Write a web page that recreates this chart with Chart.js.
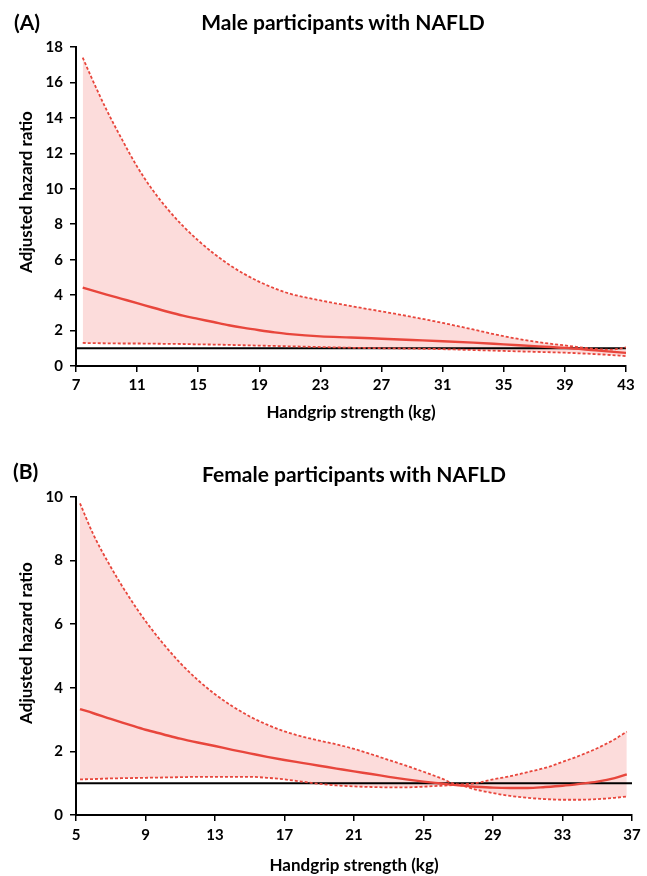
<!DOCTYPE html>
<html>
<head>
<meta charset="utf-8">
<script src="https://cdn.jsdelivr.net/npm/chart.js@4.4.1/dist/chart.umd.min.js"></script>
<style>
body{margin:0;background:#fff;width:647px;height:876px;position:relative;overflow:hidden;font-family:Lato, sans-serif;}
.box{position:absolute;left:0;width:647px;}
.lbl{position:absolute;font-weight:bold;color:#000;white-space:nowrap;line-height:1;z-index:2;}
.mid{transform:translateX(-50%);}
.ytitle{font-size:17px;transform:translate(-50%,-50%) rotate(-90deg);}
</style>
</head>
<body>
<div class="lbl" style="left:14px;top:11px;font-size:21px">(A)</div>
<div class="lbl mid" style="left:343px;top:11px;font-size:21px">Male participants with NAFLD</div>
<div class="lbl ytitle" style="left:25px;top:192px">Adjusted hazard ratio</div>
<div class="box" style="top:0;height:430px"><canvas id="chartA"></canvas></div>

<div class="lbl" style="left:13px;top:460px;font-size:21px">(B)</div>
<div class="lbl mid" style="left:354px;top:463px;font-size:21px">Female participants with NAFLD</div>
<div class="lbl ytitle" style="left:25px;top:643px">Adjusted hazard ratio</div>
<div class="box" style="top:440px;height:436px"><canvas id="chartB"></canvas></div>

<script>
/*************************
DATA
*************************/

//(A) male participants
const gripA = [7.44, 8, 9, 10, 11, 12, 13, 14, 15, 16, 17, 18, 19, 20, 21, 23, 25, 27, 29, 31, 33, 35, 37, 39, 41, 42, 43];
const upperA = [17.4, 16.3, 14.45, 12.8, 11.25, 9.95, 8.85, 7.9, 7.08, 6.36, 5.73, 5.2, 4.75, 4.38, 4.08, 3.7, 3.38, 3.08, 2.77, 2.43, 2.06, 1.68, 1.38, 1.16, 0.96, 0.92, 1.05];
const hrA = [4.42, 4.28, 4.03, 3.79, 3.55, 3.3, 3.06, 2.84, 2.66, 2.48, 2.3, 2.15, 2.02, 1.9, 1.8, 1.67, 1.61, 1.54, 1.47, 1.4, 1.32, 1.22, 1.12, 1.02, 0.88, 0.81, 0.74];
const lowerA = [1.3, 1.29, 1.28, 1.27, 1.27, 1.26, 1.25, 1.24, 1.22, 1.21, 1.19, 1.17, 1.15, 1.13, 1.11, 1.07, 1.03, 1.0, 0.98, 0.95, 0.9, 0.85, 0.8, 0.75, 0.67, 0.62, 0.56];
const xTicksA = [7, 11, 15, 19, 23, 27, 31, 35, 39, 43];
const yTicksA = [0, 2, 4, 6, 8, 10, 12, 14, 16, 18];

//(B) female participants
const gripB = [5.23, 6, 7, 8, 9, 10, 11, 12, 13, 14, 15, 16, 17, 18, 19, 20, 21, 22, 23, 24, 25, 26, 27, 28, 29, 30, 31, 32, 33, 34, 35, 36, 36.7];
const upperB = [9.8, 8.82, 7.8, 6.9, 6.1, 5.4, 4.78, 4.25, 3.8, 3.42, 3.1, 2.84, 2.63, 2.47, 2.34, 2.22, 2.08, 1.91, 1.73, 1.55, 1.36, 1.16, 0.96, 1.0, 1.12, 1.22, 1.35, 1.48, 1.67, 1.87, 2.1, 2.38, 2.62];
const hrB = [3.33, 3.2, 3.02, 2.85, 2.68, 2.54, 2.4, 2.28, 2.17, 2.05, 1.94, 1.83, 1.73, 1.64, 1.55, 1.46, 1.37, 1.29, 1.2, 1.12, 1.05, 0.99, 0.93, 0.89, 0.86, 0.85, 0.85, 0.88, 0.92, 0.98, 1.05, 1.16, 1.28];
const lowerB = [1.12, 1.13, 1.15, 1.16, 1.17, 1.18, 1.19, 1.2, 1.2, 1.2, 1.2, 1.17, 1.12, 1.05, 0.98, 0.93, 0.9, 0.88, 0.87, 0.87, 0.89, 0.92, 0.94, 0.8, 0.69, 0.6, 0.54, 0.5, 0.48, 0.48, 0.5, 0.54, 0.58];
const xTicksB = [5, 9, 13, 17, 21, 25, 29, 33, 37];
const yTicksB = [0, 2, 4, 6, 8, 10];

const refHR = 1;//reference hazard ratio line

//colors and fonts
const redColor = '#e8463c';
const bandColor = '#fcdcdb';
const tickFont = {family: 'Lato', size: 15, weight: 'bold'};
const titleFont = {family: 'Lato', size: 17, weight: 'bold'};

/*************************
GENERAL FUNCTIONS
*************************/

function Points(xs, ys){
	return xs.map((x, i) => ({x: x, y: ys[i]}));
}

//draws one hazard ratio curve with its confidence band
function CreateCurve(canvas, s){
	const lineOpts = {pointRadius: 0, tension: 0.4, cubicInterpolationMode: 'monotone'};
	return new Chart(canvas, {
		type: 'line',
		data: {
			datasets: [
				Object.assign({data: Points(s.x, s.upper), borderColor: redColor, borderWidth: 1.8, borderDash: [3, 2], fill: '+1', backgroundColor: bandColor}, lineOpts),
				Object.assign({data: Points(s.x, s.lower), borderColor: redColor, borderWidth: 1.8, borderDash: [3, 2], fill: false}, lineOpts),
				Object.assign({data: Points(s.x, s.hr), borderColor: redColor, borderWidth: 2.4, fill: false}, lineOpts),
				{data: [{x: s.xTicks[0], y: refHR}, {x: s.xTicks[s.xTicks.length - 1], y: refHR}], borderColor: '#000', borderWidth: 2, pointRadius: 0, fill: false},
			],
		},
		options: {
			responsive: true,
			maintainAspectRatio: false,
			animation: false,
			layout: {padding: s.padding},
			plugins: {
				legend: {display: false},
				tooltip: {enabled: false},
				filler: {drawTime: 'beforeDatasetsDraw'},
			},
			scales: {
				x: {
					type: 'linear',
					min: s.xTicks[0],
					max: s.xTicks[s.xTicks.length - 1],
					afterBuildTicks: scale => { scale.ticks = s.xTicks.map(v => ({value: v})); },
					afterFit: scale => { scale.height = s.xHeight; },
					ticks: {font: tickFont, color: '#000', padding: s.xTickPad, maxRotation: 0, autoSkip: false},
					grid: {drawOnChartArea: false, drawTicks: true, tickLength: 6, color: '#000', lineWidth: 1.5},
					border: {color: '#000', width: 2},
					title: {display: true, text: 'Handgrip strength (kg)', font: titleFont, color: '#000', padding: {top: 0, bottom: s.xTitlePad}},
				},
				y: {
					min: s.yTicks[0],
					max: s.yTicks[s.yTicks.length - 1],
					afterBuildTicks: scale => { scale.ticks = s.yTicks.map(v => ({value: v})); },
					afterFit: scale => { scale.width = 76; },
					ticks: {font: tickFont, color: '#000', padding: 7},
					grid: {drawOnChartArea: false, drawTicks: true, tickLength: 6, color: '#000', lineWidth: 1.5},
					border: {color: '#000', width: 2},
				},
			},
		},
	});
}

/*************************
CHARTS
*************************/

CreateCurve(document.querySelector('#chartA'), {
	x: gripA, upper: upperA, hr: hrA, lower: lowerA,
	xTicks: xTicksA, yTicks: yTicksA,
	padding: {top: 47, right: 21, left: 0, bottom: 0},
	xHeight: 64, xTickPad: 4, xTitlePad: 7,
});

CreateCurve(document.querySelector('#chartB'), {
	x: gripB, upper: upperB, hr: hrB, lower: lowerB,
	xTicks: xTicksB, yTicks: yTicksB,
	padding: {top: 57, right: 15, left: 0, bottom: 0},
	xHeight: 61, xTickPad: 5, xTitlePad: 0,
});
</script>
</body>
</html>
